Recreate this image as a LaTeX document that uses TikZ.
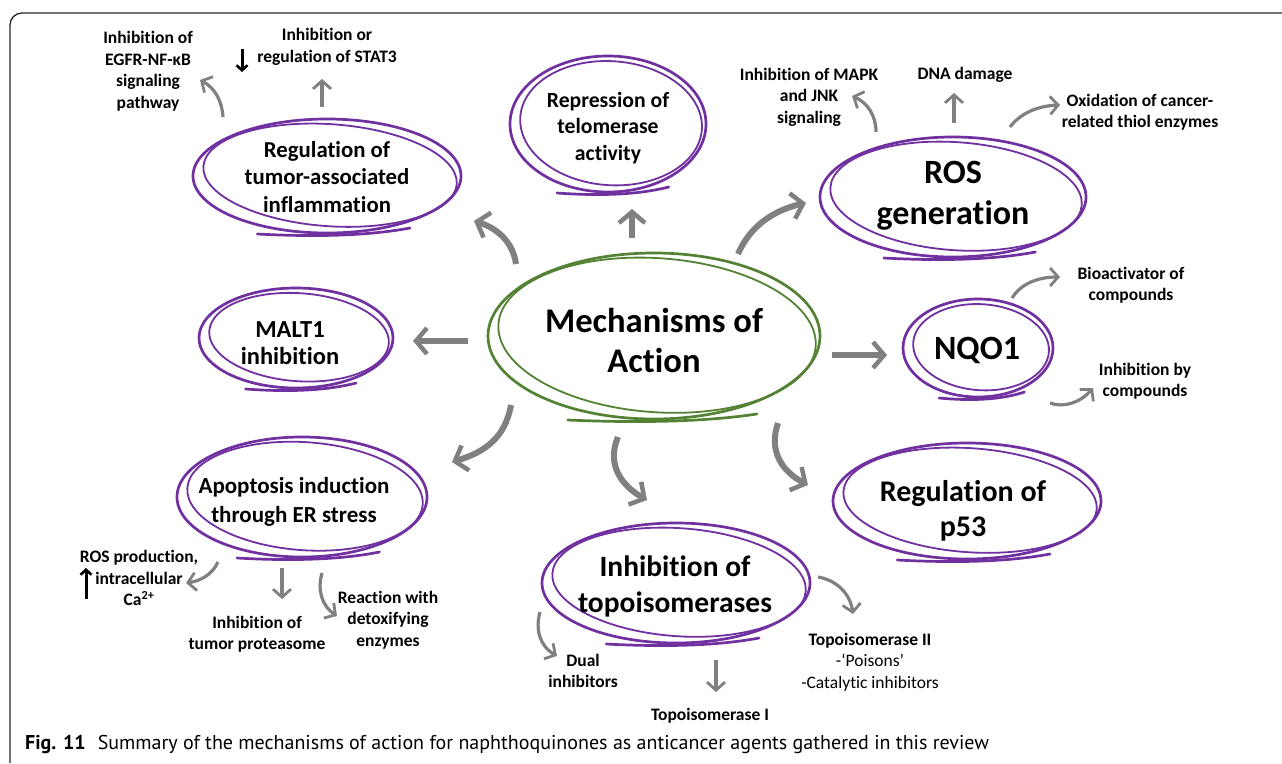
\documentclass[tikz,border=0pt]{standalone}
\usepackage{fontspec}
\setmainfont[Ligatures=NoCommon]{Carlito}
\newfontfamily\capfont{PT Sans}
\usetikzlibrary{arrows.meta}
\definecolor{vio}{RGB}{112,48,160}
\definecolor{grn}{RGB}{84,130,53}
\definecolor{arrgray}{RGB}{128,128,128}
\newcommand\sketchell[5]{%
  \draw[#5, line width=2.7pt] (#1,#2) ellipse [x radius=#3, y radius=#4];
  \draw[#5, line width=1.8pt, rotate around={-4:(#1,#2)}] (#1+3,#2-1) ellipse [x radius=#3-7, y radius=#4-6];
  \draw[#5, line width=2.7pt, line cap=round] (#1-0.52*#3,#2+#4+1) .. controls (#1-0.1*#3,#2+#4+4) and (#1+0.3*#3,#2+#4+3) .. (#1+0.62*#3,#2+#4-5);
}
\begin{document}
\begin{tikzpicture}[x=1pt,y=-1pt,
  lbl/.style={font=\bfseries\fontsize{17.5}{21.5}\selectfont, align=center, inner sep=0pt},
  big/.style={align=center, inner sep=0pt},
  carrow/.style={draw=arrgray, line width=6pt, -{Straight Barb[length=11pt,width=26pt,line width=4.5pt]}},
  sarrow/.style={draw=arrgray, line width=3.2pt, -{Straight Barb[length=8pt,width=18pt,line width=2.8pt]}},
  karrow/.style={draw=black, line width=3pt, -{Straight Barb[length=5pt,width=11pt,line width=2.6pt]}}]
\useasboundingbox (0,0) rectangle (1282,763);
\fill[white] (0,0) rectangle (1282,763);
\draw[line width=1.3pt, black!85, rounded corners=12pt] (10,763) -- (10,13) -- (1282,13);

% sketched ellipses
\sketchell{327}{176}{134}{57}{vio}
\sketchell{608}{124}{98}{68}{vio}
\sketchell{953}{197}{133}{60}{vio}
\sketchell{654}{336}{166}{83}{grn}
\sketchell{296}{338}{97}{50}{vio}
\sketchell{978}{348}{75}{49}{vio}
\sketchell{967}{501}{134}{58}{vio}
\sketchell{302}{497}{125}{60}{vio}
\sketchell{676}{583}{134}{60}{vio}

% main nodes
\node[big, font=\bfseries\fontsize{22.8}{27.5}\selectfont] (infl) at (327,177) {Regulation of\\tumor-associated\\inflammation};
\node[big, font=\bfseries\fontsize{21.7}{26.5}\selectfont] (telo) at (608,128) {Repression of\\telomerase\\activity};
\node[big, font=\bfseries\fontsize{34}{41}\selectfont] (ros) at (953,196) {ROS\\generation};
\node[big, font=\bfseries\fontsize{34.6}{40}\selectfont] (moa) at (654,340) {Mechanisms of\\Action};
\node[big, font=\bfseries\fontsize{24.5}{27}\selectfont] (malt) at (290,343) {MALT1\\inhibition};
\node[big, font=\bfseries\fontsize{34}{40}\selectfont] (nqo) at (977,350) {NQO1};
\node[big, font=\bfseries\fontsize{30}{35}\selectfont] (p53) at (963,511) {Regulation of\\p53};
\node[big, font=\bfseries\fontsize{23}{29}\selectfont] (apo) at (294,502) {Apoptosis induction\\through ER stress};
\node[big, font=\bfseries\fontsize{29.5}{36}\selectfont] (topo) at (675,586) {Inhibition of\\topoisomerases};

% secondary labels
\node[lbl] (egfr) at (148,71) {Inhibition of\\EGFR-NF-κB\\signaling\\pathway};
\node[lbl] (stat) at (327,47) {Inhibition or\\regulation of STAT3};
\node[lbl] (mapk) at (809,97) {Inhibition of MAPK\\and JNK\\signaling};
\node[lbl] (dna) at (965,75) {DNA damage};
\node[lbl] (oxid) at (1140,112) {Oxidation of cancer-\\related thiol enzymes};
\node[lbl] (bioa) at (1131,285) {Bioactivator of\\compounds};
\node[lbl] (inhb) at (1145,381) {Inhibition by\\compounds};
\node[lbl] (rosp) at (139,578) {ROS production,\\intracellular\\Ca\textsuperscript{2+}};
\node[lbl] (prot) at (257,634) {Inhibition of\\tumor proteasome};
\node[lbl] (reac) at (388,620) {Reaction with\\detoxifying\\enzymes};
\node[lbl] (dual) at (583,671) {Dual\\inhibitors};
\node[lbl] (topI) at (710,716) {Topoisomerase I};
\node[lbl] (topII) at (870,662) {Topoisomerase II\\\mdseries -‘Poisons’\\\mdseries -Catalytic inhibitors};

% black small arrows
\coordinate (kd1) at (242,49); \coordinate (kd2) at (242,72);
\draw[karrow] (kd1) -- (kd2);
\coordinate (ku1) at (86,599); \coordinate (ku2) at (86,568);
\draw[karrow] (ku1) -- (ku2);

% central arrows
\coordinate (c1s) at (516,264); \coordinate (c1e) at (474,221);
\draw[carrow] (c1s) .. controls (513,242) and (497,228) .. (c1e);
\coordinate (c2s) at (632,238); \coordinate (c2e) at (632,209);
\draw[carrow] (c2s) -- (c2e);
\coordinate (c3s) at (738,254); \coordinate (c3e) at (806,203);
\draw[carrow] (c3s) .. controls (750,226) and (774,210) .. (c3e);
\coordinate (c4s) at (468,341); \coordinate (c4e) at (413,341);
\draw[carrow] (c4s) -- (c4e);
\coordinate (c5s) at (832,355); \coordinate (c5e) at (887,355);
\draw[carrow] (c5s) -- (c5e);
\coordinate (c6s) at (511,405); \coordinate (c6e) at (452,462);
\draw[carrow] (c6s) .. controls (505,438) and (485,452) .. (c6e);
\coordinate (c7s) at (618,437); \coordinate (c7e) at (647,500);
\draw[carrow] (c7s) .. controls (606,465) and (622,486) .. (c7e);
\coordinate (c8s) at (778,423); \coordinate (c8e) at (808,485);
\draw[carrow] (c8s) .. controls (768,452) and (783,472) .. (c8e);

% secondary arrows
\coordinate (s1s) at (223,117); \coordinate (s1e) at (200,80);
\draw[sarrow] (s1s) .. controls (222,101) and (215,88) .. (s1e);
\coordinate (s2s) at (322,107); \coordinate (s2e) at (322,79);
\draw[sarrow] (s2s) -- (s2e);
\coordinate (s3s) at (876,132); \coordinate (s3e) at (852,96);
\draw[sarrow] (s3s) .. controls (876,116) and (868,103) .. (s3e);
\coordinate (s4s) at (954,123); \coordinate (s4e) at (954,93);
\draw[sarrow] (s4s) -- (s4e);
\coordinate (s5s) at (1010,127); \coordinate (s5e) at (1060,105);
\draw[sarrow] (s5s) .. controls (1020,114) and (1036,106) .. (s5e);
\coordinate (s6s) at (1012,298); \coordinate (s6e) at (1060,277);
\draw[sarrow] (s6s) .. controls (1020,285) and (1036,277) .. (s6e);
\coordinate (s7s) at (1050,403); \coordinate (s7e) at (1093,388);
\draw[sarrow] (s7s) .. controls (1063,408) and (1080,403) .. (s7e);
\coordinate (s8s) at (218,562); \coordinate (s8e) at (186,583);
\draw[sarrow] (s8s) .. controls (212,575) and (200,581) .. (s8e);
\coordinate (s9s) at (282,568); \coordinate (s9e) at (282,599);
\draw[sarrow] (s9s) -- (s9e);
\coordinate (s10s) at (322,573); \coordinate (s10e) at (337,616);
\draw[sarrow] (s10s) .. controls (317,590) and (322,606) .. (s10e);
\coordinate (s11s) at (540,612); \coordinate (s11e) at (557,656);
\draw[sarrow] (s11s) .. controls (535,630) and (540,646) .. (s11e);
\coordinate (s12s) at (716,660); \coordinate (s12e) at (716,692);
\draw[sarrow] (s12s) -- (s12e);
\coordinate (s13s) at (818,577); \coordinate (s13e) at (853,614);
\draw[sarrow] (s13s) .. controls (836,580) and (850,593) .. (s13e);

% caption
\node[anchor=base west, inner sep=0pt, font=\capfont\fontsize{20}{23}\selectfont] (cap) at (25,749) {\textbf{Fig. 11}\hspace{0.6em}Summary of the mechanisms of action for naphthoquinones as anticancer agents gathered in this review};
\end{tikzpicture}
\end{document}
